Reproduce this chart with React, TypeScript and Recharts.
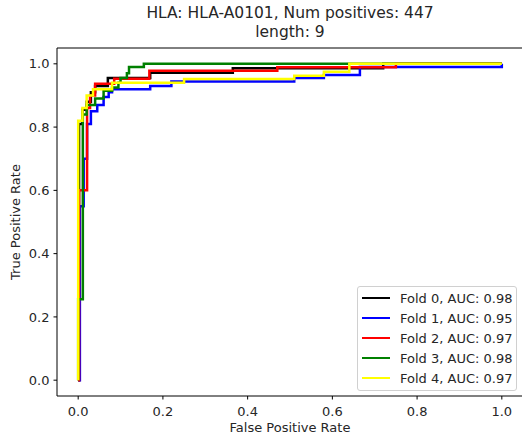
import React from 'react';
import { LineChart, Line, XAxis, YAxis, Legend, ReferenceLine } from 'recharts';

// ROC points, one pair of arrays per fold
const fold0Fpr = [0, 0.002, 0.002, 0.01, 0.01, 0.02, 0.02, 0.03, 0.03, 0.04, 0.04, 0.07, 0.07, 0.17, 0.17, 0.365, 0.365, 0.72, 0.72, 1.0];
const fold0Tpr = [0, 0, 0.81, 0.81, 0.855, 0.855, 0.88, 0.88, 0.91, 0.91, 0.93, 0.93, 0.955, 0.955, 0.972, 0.972, 0.986, 0.986, 1.0, 1.0];

const fold1Fpr = [0, 0.004, 0.004, 0.013, 0.013, 0.021, 0.021, 0.03, 0.03, 0.045, 0.045, 0.06, 0.06, 0.072, 0.072, 0.08, 0.08, 0.17, 0.17, 0.22, 0.22, 0.51, 0.51, 0.58, 0.58, 0.665, 0.665, 1.0, 1.0];
const fold1Tpr = [0, 0, 0.55, 0.55, 0.70, 0.70, 0.81, 0.81, 0.85, 0.85, 0.87, 0.87, 0.895, 0.895, 0.91, 0.91, 0.92, 0.92, 0.93, 0.93, 0.944, 0.944, 0.955, 0.955, 0.965, 0.965, 0.99, 0.99, 1.0];

const fold2Fpr = [0, 0.002, 0.002, 0.021, 0.021, 0.028, 0.028, 0.04, 0.04, 0.085, 0.085, 0.168, 0.168, 0.47, 0.47, 0.75, 0.75, 1.0];
const fold2Tpr = [0, 0, 0.6, 0.6, 0.86, 0.86, 0.9, 0.9, 0.937, 0.937, 0.953, 0.953, 0.978, 0.978, 0.989, 0.989, 1.0, 1.0];

const fold3Fpr = [0, 0, 0.011, 0.011, 0.02, 0.02, 0.04, 0.04, 0.06, 0.06, 0.08, 0.08, 0.095, 0.095, 0.1, 0.1, 0.115, 0.115, 0.12, 0.12, 0.155, 0.155, 1.0];
const fold3Tpr = [0, 0.256, 0.256, 0.84, 0.84, 0.87, 0.87, 0.89, 0.89, 0.915, 0.915, 0.925, 0.925, 0.94, 0.94, 0.955, 0.955, 0.97, 0.97, 0.99, 0.99, 1.0, 1.0];

const fold4Fpr = [0, 0, 0.01, 0.01, 0.02, 0.02, 0.035, 0.035, 0.08, 0.08, 0.25, 0.25, 0.51, 0.51, 0.58, 0.58, 0.64, 0.64, 1.0];
const fold4Tpr = [0, 0.82, 0.82, 0.86, 0.86, 0.9, 0.9, 0.92, 0.92, 0.94, 0.94, 0.952, 0.952, 0.962, 0.962, 0.975, 0.975, 1.0, 1.0];

const foldNames = ['Fold 0', 'Fold 1', 'Fold 2', 'Fold 3', 'Fold 4'];
const foldAuc = [0.98, 0.95, 0.97, 0.98, 0.97];
const foldColors = ['#000000', '#0000ff', '#ff0000', '#008000', '#ffff00'];
const axisTicks = [0, 0.2, 0.4, 0.6, 0.8, 1.0];

const toPoints = (fpr: number[], tpr: number[]) => fpr.map((x, i) => ({ fpr: x, tpr: tpr[i] }));

const folds = [
  toPoints(fold0Fpr, fold0Tpr),
  toPoints(fold1Fpr, fold1Tpr),
  toPoints(fold2Fpr, fold2Tpr),
  toPoints(fold3Fpr, fold3Tpr),
  toPoints(fold4Fpr, fold4Tpr),
];

const font = '"DejaVu Sans", sans-serif';
const textColor = '#262626';

const renderLegend = () => (
  <div
    style={{
      border: '1px solid #d0d0d0',
      borderRadius: 3,
      background: 'rgba(255,255,255,0.8)',
      padding: '1px 0 2px 0',
      fontFamily: font,
      fontSize: 13,
      color: textColor,
    }}
  >
    {foldNames.map((name, i) => (
      <div key={name} style={{ display: 'flex', alignItems: 'center', height: 20 }}>
        <span style={{ display: 'inline-block', width: 28, height: 2.5, background: foldColors[i], marginLeft: 4, marginRight: 10 }} />
        <span>{`${name}, AUC: ${foldAuc[i].toFixed(2)}`}</span>
      </div>
    ))}
  </div>
);

const App: React.FC = () => {
  return (
    <div style={{ position: 'absolute', left: 0, top: 0, width: 522, height: 435, overflow: 'hidden', background: '#fff' }}>
      <svg width={522} height={48} style={{ position: 'absolute', left: 0, top: 0 }}>
        <text x={290} y={18} textAnchor="middle" fontFamily={font} fontSize={15.5} fill={textColor}>
          HLA: HLA-A0101, Num positives: 447
        </text>
        <text x={290} y={37} textAnchor="middle" fontFamily={font} fontSize={15.5} fill={textColor}>
          length: 9
        </text>
      </svg>
      <LineChart width={530} height={435} margin={{ top: 48, right: 7, bottom: 0, left: 0 }}>
        <XAxis
          dataKey="fpr"
          type="number"
          domain={[-0.05, 1.05]}
          ticks={axisTicks}
          tickFormatter={(v: number) => v.toFixed(1)}
          allowDataOverflow
          height={39}
          tickSize={3.5}
          tickMargin={7}
          stroke="#000"
          tick={{ fill: textColor, fontSize: 13, fontFamily: font }}
          label={{ value: 'False Positive Rate', position: 'insideBottom', offset: 3, fill: textColor, fontSize: 13, fontFamily: font }}
        />
        <YAxis
          type="number"
          domain={[-0.05, 1.05]}
          ticks={axisTicks}
          tickFormatter={(v: number) => v.toFixed(1)}
          allowDataOverflow
          width={57}
          tickSize={3.5}
          tickMargin={4}
          stroke="#000"
          tick={{ fill: textColor, fontSize: 13, fontFamily: font }}
          label={{
            value: 'True Positive Rate',
            angle: -90,
            position: 'insideLeft',
            offset: 15,
            fill: textColor,
            fontSize: 13,
            fontFamily: font,
            style: { textAnchor: 'middle' },
          }}
        />
        {/* top and right spines */}
        <ReferenceLine y={1.05} stroke="#000" strokeWidth={1} ifOverflow="visible" />
        <ReferenceLine x={1.05} stroke="#000" strokeWidth={1} ifOverflow="visible" />
        <Legend
          layout="vertical"
          align="center"
          verticalAlign="middle"
          content={renderLegend}
          wrapperStyle={{ left: 357, top: 286, width: 160, height: 104 }}
        />
        {folds.map((points, i) => (
          <Line
            key={foldNames[i]}
            data={points}
            dataKey="tpr"
            name={foldNames[i]}
            type="linear"
            stroke={foldColors[i]}
            strokeWidth={2.5}
            dot={false}
            isAnimationActive={false}
          />
        ))}
      </LineChart>
    </div>
  );
};

export default App;
